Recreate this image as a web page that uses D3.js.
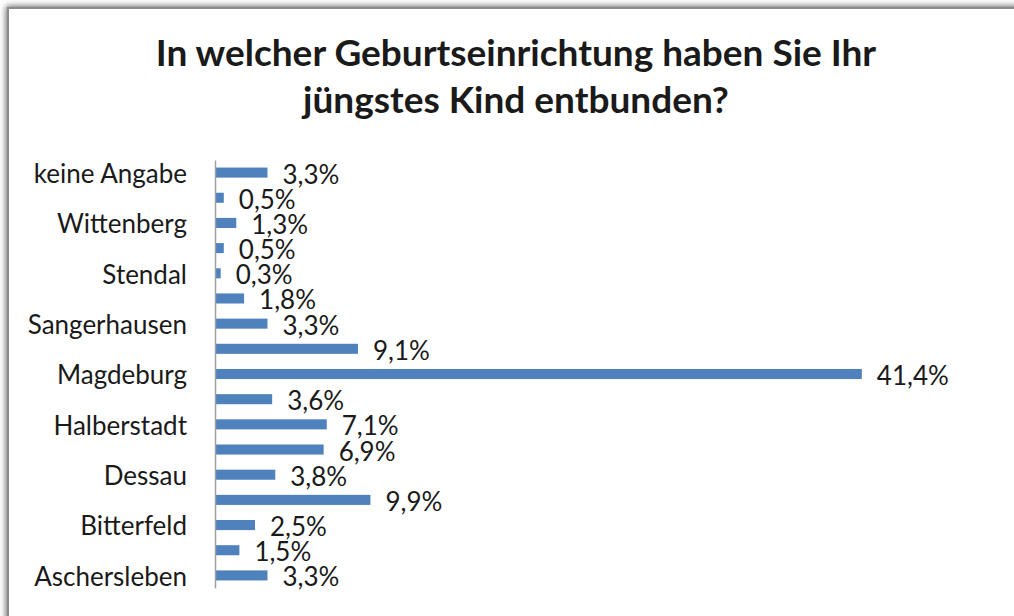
<!DOCTYPE html>
<html>
<head>
<meta charset="utf-8">
<script src="https://cdn.jsdelivr.net/npm/d3@7"></script>
<style>
  body { margin: 0; background: #fff; }
  text { font-family: Lato, "Open Sans", sans-serif; fill: #1a1a1a; }
</style>
</head>
<body>
<div id="chart"></div>
<script>
// data, top to bottom as in the picture (empty label = not printed on the axis)
var labels = ["keine Angabe", "", "Wittenberg", "", "Stendal", "", "Sangerhausen", "",
  "Magdeburg", "", "Halberstadt", "", "Dessau", "", "Bitterfeld", "", "Aschersleben"];
var values = [3.3, 0.5, 1.3, 0.5, 0.3, 1.8, 3.3, 9.1, 41.4, 3.6, 7.1, 6.9, 3.8, 9.9, 2.5, 1.5, 3.3];
var titleLines = ["In welcher Geburtseinrichtung haben Sie Ihr", "jüngstes Kind entbunden?"];

var svgWidth = 1014, svgHeight = 616;
var margin = {top: 160, left: 215};
var plotHeight = 428;

var svg = d3.select("#chart").append("svg")
  .attr("width", svgWidth)
  .attr("height", svgHeight);

// frame with soft shadow
var defs = svg.append("defs");
var f = defs.append("filter").attr("id", "shadow")
  .attr("x", "-5%").attr("y", "-5%").attr("width", "110%").attr("height", "110%");
f.append("feGaussianBlur").attr("in", "SourceAlpha").attr("stdDeviation", 3).attr("result", "b");
f.append("feOffset").attr("in", "b").attr("dx", -1).attr("dy", -1).attr("result", "o");
f.append("feComponentTransfer").attr("in", "o").attr("result", "s")
  .append("feFuncA").attr("type", "linear").attr("slope", 0.6);
var fm = f.append("feMerge");
fm.append("feMergeNode").attr("in", "s");
fm.append("feMergeNode").attr("in", "SourceGraphic");

svg.append("rect")
  .attr("x", 8).attr("y", 8)
  .attr("width", 1030).attr("height", 640)
  .attr("fill", "#fff")
  .attr("stroke", "#8c8c8c")
  .attr("stroke-width", 2)
  .attr("filter", "url(#shadow)");

// title
svg.append("text")
  .attr("x", 516).attr("y", 66)
  .attr("text-anchor", "middle")
  .style("font-weight", "bold")
  .style("font-size", "37px")
  .selectAll("tspan")
  .data(titleLines)
  .enter().append("tspan")
  .attr("x", 516)
  .attr("dy", (d, i) => i ? 47 : 0)
  .text(d => d);

var idx = d3.range(values.length);

var y = d3.scaleBand()
  .domain(idx)
  .range([0, plotHeight])
  .paddingInner(0.6)
  .paddingOuter(0.3);

var x = d3.scaleLinear()
  .domain([0, 45])
  .range([0, 702]);

var g = svg.append("g")
  .attr("transform", `translate(${margin.left}, ${margin.top})`);

// bars
g.selectAll("rect.bar")
  .data(idx)
  .enter().append("rect")
  .attr("class", "bar")
  .attr("x", 1)
  .attr("y", i => y(i))
  .attr("width", i => x(values[i]))
  .attr("height", y.bandwidth())
  .attr("fill", "#4f81bd");

// value labels
g.selectAll("text.val")
  .data(idx)
  .enter().append("text")
  .attr("class", "val")
  .attr("x", i => x(values[i]) + 16)
  .attr("y", i => y(i) + y.bandwidth() / 2 + 11)
  .style("font-size", "26px")
  .text(i => d3.format(".1f")(values[i]).replace(".", ",") + "%");

// category axis
var yAxis = d3.axisLeft(y)
  .tickSize(0)
  .tickPadding(28)
  .tickFormat(i => labels[i]);

var ax = g.append("g").call(yAxis);
ax.select(".domain").attr("stroke", "#a0a0a0").attr("stroke-width", 1.5);
ax.selectAll(".tick text")
  .style("font-family", "Lato, sans-serif")
  .style("font-size", "26px")
  .attr("fill", "#1a1a1a")
  .attr("dy", "0.4em");
</script>
</body>
</html>
